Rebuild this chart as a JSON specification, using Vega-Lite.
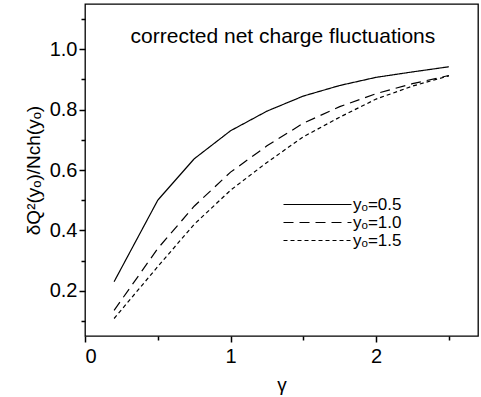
{
  "$schema": "https://vega.github.io/schema/vega-lite/v6.json",
  "width": 393,
  "height": 332,
  "autosize": {"type": "none"},
  "padding": {"left": 85, "top": 4, "right": 3, "bottom": 61},
  "config": {
    "font": "Liberation Sans",
    "view": {"stroke": "#000", "strokeWidth": 1.3},
    "axis": {
      "grid": false,
      "domain": false,
      "labelColor": "#000",
      "labelFontSize": 20,
      "titleColor": "#000",
      "titleFontSize": 19,
      "titleFontWeight": "normal",
      "labelFont": "Liberation Sans",
      "titleFont": "Liberation Sans"
    }
  },
  "datasets": {
    "curves": [
      {"series": "yₒ=0.5", "gamma": 0.2, "value": 0.23},
      {"series": "yₒ=0.5", "gamma": 0.5, "value": 0.5},
      {"series": "yₒ=0.5", "gamma": 0.75, "value": 0.637},
      {"series": "yₒ=0.5", "gamma": 1.0, "value": 0.73},
      {"series": "yₒ=0.5", "gamma": 1.25, "value": 0.795},
      {"series": "yₒ=0.5", "gamma": 1.5, "value": 0.845},
      {"series": "yₒ=0.5", "gamma": 1.75, "value": 0.88},
      {"series": "yₒ=0.5", "gamma": 2.0, "value": 0.907},
      {"series": "yₒ=0.5", "gamma": 2.25, "value": 0.925},
      {"series": "yₒ=0.5", "gamma": 2.5, "value": 0.942},
      {"series": "yₒ=1.0", "gamma": 0.2, "value": 0.135},
      {"series": "yₒ=1.0", "gamma": 0.5, "value": 0.34},
      {"series": "yₒ=1.0", "gamma": 0.75, "value": 0.48},
      {"series": "yₒ=1.0", "gamma": 1.0, "value": 0.593},
      {"series": "yₒ=1.0", "gamma": 1.25, "value": 0.68},
      {"series": "yₒ=1.0", "gamma": 1.5, "value": 0.755},
      {"series": "yₒ=1.0", "gamma": 1.75, "value": 0.81},
      {"series": "yₒ=1.0", "gamma": 2.0, "value": 0.853},
      {"series": "yₒ=1.0", "gamma": 2.25, "value": 0.886},
      {"series": "yₒ=1.0", "gamma": 2.5, "value": 0.913},
      {"series": "yₒ=1.5", "gamma": 0.2, "value": 0.108},
      {"series": "yₒ=1.5", "gamma": 0.5, "value": 0.28},
      {"series": "yₒ=1.5", "gamma": 0.75, "value": 0.42},
      {"series": "yₒ=1.5", "gamma": 1.0, "value": 0.533},
      {"series": "yₒ=1.5", "gamma": 1.25, "value": 0.625},
      {"series": "yₒ=1.5", "gamma": 1.5, "value": 0.71},
      {"series": "yₒ=1.5", "gamma": 1.75, "value": 0.775},
      {"series": "yₒ=1.5", "gamma": 2.0, "value": 0.835},
      {"series": "yₒ=1.5", "gamma": 2.25, "value": 0.878},
      {"series": "yₒ=1.5", "gamma": 2.5, "value": 0.912}
    ]
  },
  "layer": [
    {
      "data": {"name": "curves"},
      "mark": {"type": "line", "color": "#000", "strokeWidth": 1.2},
      "encoding": {
        "x": {
          "field": "gamma", "type": "quantitative",
          "scale": {"domain": [0, 2.7], "nice": false, "zero": false},
          "axis": {
            "orient": "bottom",
            "values": [0, 1, 2],
            "format": "d",
            "ticks": true,
            "tickColor": "#000",
            "tickOpacity": 1,
            "tickWidth": 1.5,
            "tickSize": 6,
            "labelPadding": 4,
            "title": "γ",
            "titlePadding": 9
          }
        },
        "y": {
          "field": "value", "type": "quantitative",
          "scale": {"domain": [0.05, 1.15], "nice": false, "zero": false},
          "axis": {
            "orient": "left",
            "values": [0.2, 0.4, 0.6, 0.8, 1.0],
            "format": ".1f",
            "ticks": true,
            "tickColor": "#000",
            "tickOpacity": 1,
            "tickWidth": 1.5,
            "tickSize": 6,
            "labelPadding": 2,
            "title": "δQ²(yₒ)/Nch(yₒ)",
            "titlePadding": 6
          }
        },
        "strokeDash": {
          "field": "series", "type": "nominal",
          "scale": {"domain": ["yₒ=0.5", "yₒ=1.0", "yₒ=1.5"], "range": [[1, 0], [10, 6], [4, 3]]},
          "legend": {
            "orient": "none",
            "legendX": 224,
            "legendY": 192,
            "title": null,
            "padding": 0,
            "symbolType": "M-6.8,0H6.8",
            "symbolSize": 100,
            "symbolStrokeColor": "#000",
            "symbolStrokeWidth": 1.2,
            "symbolFillColor": "transparent",
            "labelFontSize": 17,
            "labelColor": "#000",
            "labelFont": "Liberation Sans",
            "labelOffset": 27,
            "rowPadding": 0
          }
        }
      }
    },
    {
      "data": {"name": "curves"},
      "mark": {"type": "line", "opacity": 0},
      "encoding": {
        "x": {
          "field": "gamma", "type": "quantitative",
          "axis": {"orient": "bottom", "values": [0.5, 1.5, 2.5], "labels": false, "ticks": true, "tickColor": "#000", "tickOpacity": 1, "tickWidth": 1.5, "tickSize": 4, "title": null}
        },
        "y": {
          "field": "value", "type": "quantitative",
          "axis": {"orient": "left", "values": [0.1, 0.3, 0.5, 0.7, 0.9, 1.1], "labels": false, "ticks": true, "tickColor": "#000", "tickOpacity": 1, "tickWidth": 1.5, "tickSize": 4, "title": null}
        },
        "detail": {"field": "series"}
      }
    },
    {
      "data": {"values": [{"t": "corrected net charge fluctuations"}]},
      "mark": {"type": "text", "fontSize": 21, "color": "#000", "font": "Liberation Sans", "baseline": "middle", "align": "center"},
      "encoding": {
        "x": {"datum": 1.36, "type": "quantitative", "axis": null},
        "y": {"datum": 1.04, "type": "quantitative", "axis": null},
        "text": {"field": "t"}
      }
    }
  ],
  "resolve": {"axis": {"x": "independent", "y": "independent"}}
}
